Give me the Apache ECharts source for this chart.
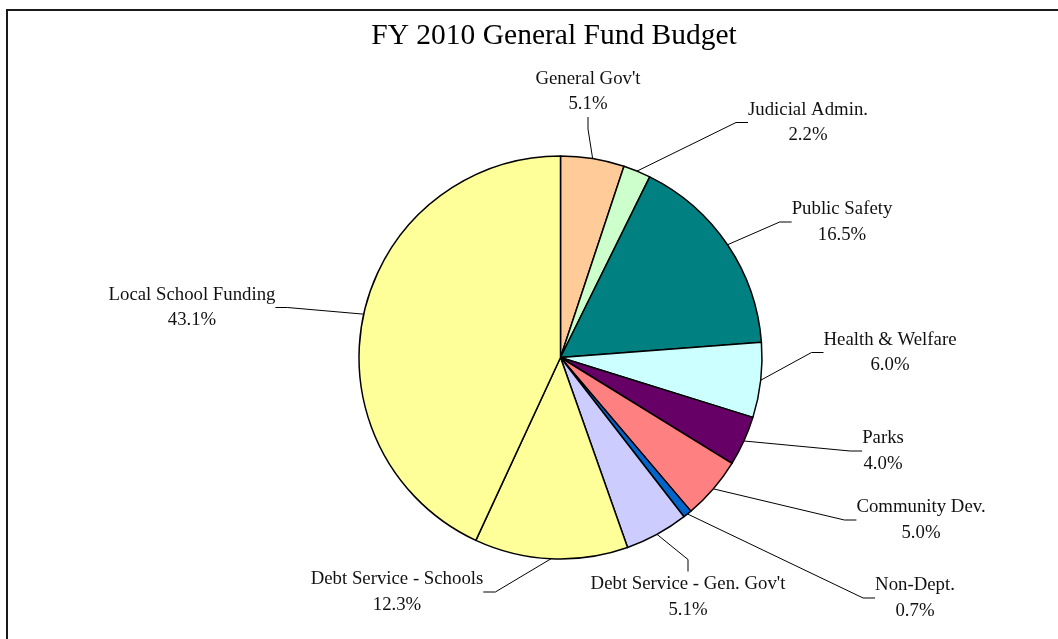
<!DOCTYPE html>
<html>
<head>
<meta charset="utf-8">
<title>FY 2010 General Fund Budget</title>
<script src="https://cdn.jsdelivr.net/npm/echarts@6/dist/echarts.min.js"></script>
<style>
  html, body { margin: 0; padding: 0; background: #fff; }
  #chart { width: 1058px; height: 639px; }
</style>
</head>
<body>
<div id="chart"></div>
<script>
// Budget categories, clockwise from 12 o'clock
const categories = [
  "General Gov't",
  'Judicial Admin.',
  'Public Safety',
  'Health & Welfare',
  'Parks',
  'Community Dev.',
  'Non-Dept.',
  "Debt Service - Gen. Gov't",
  'Debt Service - Schools',
  'Local School Funding'
];

// Share of the general fund, percent
const shares = [5.1, 2.2, 16.5, 6.0, 4.0, 5.0, 0.7, 5.1, 12.3, 43.1];

// Slice fills
const sliceColors = [
  '#FFCC99', '#CCFFCC', '#008080', '#CCFFFF', '#660066',
  '#FF8080', '#0066CC', '#CCCCFF', '#FFFF99', '#FFFF99'
];

// Where each two-line label block is centred (px)
const labelCenters = [
  [588, 91.5], [808, 122.5], [842, 222], [890, 352.5], [883, 451],
  [921, 520], [915, 598], [688, 597], [397, 592], [192, 307.5]
];

const serif = '"Times New Roman", "Liberation Serif", serif';

const chart = echarts.init(document.getElementById('chart'), null, { renderer: 'canvas' });

chart.setOption({
  backgroundColor: '#fff',
  animation: false,
  title: {
    text: 'FY 2010 General Fund Budget',
    left: 549,
    top: 16,
    textAlign: 'center',
    textStyle: { fontFamily: serif, fontSize: 29.5, fontWeight: 'normal', color: '#000' }
  },
  graphic: [{
    type: 'rect',
    shape: { x: 7, y: 10, width: 1100, height: 700 },
    style: { fill: 'none', stroke: '#1a1a1a', lineWidth: 2 },
    silent: true
  }],
  series: [{
    type: 'pie',
    center: [560.5, 357.5],
    radius: 201.5,
    startAngle: 90,
    clockwise: true,
    avoidLabelOverlap: false,
    data: categories.map((name, i) => ({
      name,
      value: shares[i],
      itemStyle: { color: sliceColors[i] }
    })),
    itemStyle: { borderColor: '#000', borderWidth: 1.5 },
    label: {
      show: true,
      position: 'outside',
      formatter: p => p.name + '\n' + p.value.toFixed(1) + '%',
      fontFamily: serif,
      fontSize: 18.8,
      lineHeight: 25.5,
      color: '#111',
      align: 'center'
    },
    labelLine: {
      show: true,
      length: 15,
      length2: 12,
      smooth: false,
      lineStyle: { color: '#000', width: 1 }
    },
    labelLayout: params => {
      const c = labelCenters[params.dataIndex];
      return { x: c[0], y: c[1], align: 'center', verticalAlign: 'middle' };
    },
    emphasis: { disabled: true }
  }]
});
</script>
</body>
</html>
